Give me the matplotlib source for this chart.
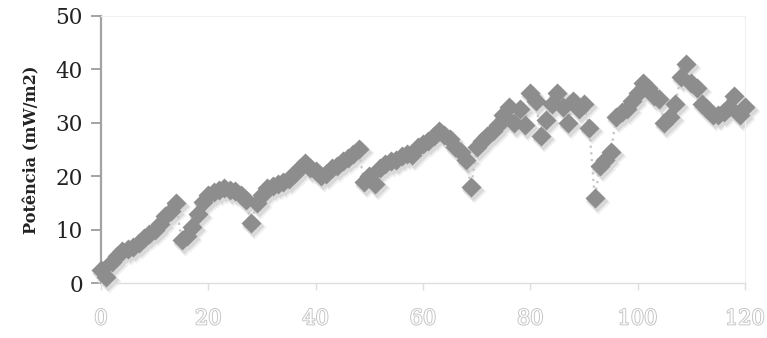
import matplotlib
matplotlib.use("Agg")
import matplotlib.pyplot as plt
import matplotlib.patheffects as pe
from matplotlib.transforms import ScaledTranslation

# Measured power density over time
tempo = list(range(0, 121))
potencia = [
    2.5, 1.2, 4.0, 5.0, 6.0, 6.3, 6.8, 7.5, 8.5, 9.2,
    10.0, 11.0, 12.5, 13.5, 15.0, 8.0, 8.8, 10.5, 13.0, 15.2,
    16.5, 17.0, 17.5, 17.8, 17.5, 17.3, 16.5, 15.5, 11.3, 15.0,
    16.5, 17.8, 18.2, 18.5, 19.0, 19.5, 20.5, 21.5, 22.5, 21.5,
    21.0, 20.0, 20.5, 21.5, 22.0, 22.8, 23.5, 24.2, 25.0, 19.0,
    20.0, 18.5, 21.5, 22.3, 22.8, 23.0, 23.8, 24.2, 24.0, 25.5,
    26.0, 26.5, 27.5, 28.5, 27.8, 27.0, 25.5, 24.5, 23.0, 18.0,
    25.5, 26.5, 27.5, 28.5, 29.5, 31.5, 33.0, 30.0, 32.5, 29.5,
    35.5, 34.0, 27.5, 30.5, 33.5, 35.5, 33.0, 30.0, 34.0, 32.5,
    33.5, 29.0, 16.0, 22.0, 23.0, 24.5, 31.0, 32.0, 32.5, 34.0,
    35.5, 37.5, 36.5, 35.0, 34.5, 30.0, 31.0, 33.5, 38.5, 41.0,
    37.5, 36.5, 33.5, 32.5, 31.5, 31.5, 32.0, 33.0, 35.0, 31.5,
    33.0,
]
x_ticks = [0, 20, 40, 60, 80, 100, 120]
y_ticks = [0, 10, 20, 30, 40, 50]
y_label = "Potência (mW/m2)"

fig = plt.figure(figsize=(7.67, 3.38), dpi=100)
ax = fig.add_axes([0.1317, 0.1627, 0.8396, 0.79])
ax.set_xlim(0, 120)
ax.set_ylim(0, 50)

# soft drop shadow under the markers
for dx, dy, ms, col in [(3, -4, 12.6, "#f0f0f0"), (2, -3, 11.2, "#d9d9d9")]:
    off = ax.transData + ScaledTranslation(dx / 100, dy / 100, fig.dpi_scale_trans)
    ax.plot(tempo, potencia, linestyle="none", marker="D", ms=ms,
            color=col, mec="none", transform=off, clip_on=False, zorder=2)

# dotted connector and the markers
ax.plot(tempo, potencia, linestyle=(0, (1, 2)), color="#c4c4c4", lw=1.6,
        zorder=3, clip_on=False)
ax.plot(tempo, potencia, linestyle="none", marker="D", ms=10.5,
        color="#8d8d8d", mec="none", zorder=4, clip_on=False)

# frame
for side in ["top", "right"]:
    ax.spines[side].set_color("#f0f0f0")
    ax.spines[side].set_linewidth(0.8)
ax.spines["left"].set_color("#a3a3a3")
ax.spines["left"].set_linewidth(1.6)
ax.spines["bottom"].set_color("#dedede")
ax.spines["bottom"].set_linewidth(1.0)

ax.set_yticks(y_ticks)
ax.set_yticklabels([str(v) for v in y_ticks], family="DejaVu Serif",
                   fontsize=15.5, color="#222222")
ax.tick_params(axis="y", direction="out", length=7, width=1.4,
               color="#a3a3a3", pad=6)

ax.set_xticks(x_ticks)
ax.set_xticklabels([str(v) for v in x_ticks], family="DejaVu Serif",
                   fontsize=15, color="white")
for lbl in ax.get_xticklabels():
    lbl.set_path_effects([pe.withStroke(linewidth=1.4, foreground="#c6c6c6")])
ax.tick_params(axis="x", direction="out", length=5, width=1.0,
               color="#dedede", pad=14)

ax.set_ylabel(y_label, family="DejaVu Serif", fontweight="bold",
              fontsize=11.6, color="#222222", labelpad=11)

fig.savefig("out.png", dpi=100)
